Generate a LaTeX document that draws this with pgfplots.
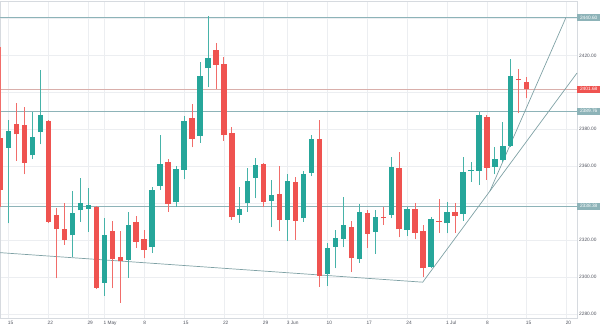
\documentclass[border=0pt]{standalone}
\usepackage{pgfplots}
\usepackage{pgfplotstable}
\pgfplotsset{compat=1.18}
\usepackage{fontspec}
\setmainfont{Liberation Sans}
\definecolor{cgreen}{HTML}{26A69A}
\definecolor{cred}{HTML}{EF5350}
\definecolor{lvl}{HTML}{8DB3B8}
\definecolor{gridc}{HTML}{ECEEF1}
\definecolor{pline}{HTML}{D9AFAB}
\definecolor{txt}{HTML}{50535E}
\definecolor{frame}{HTML}{D6DADF}

\pgfplotstableread{
i o h l c
1 2370.1 2385.0 2329.1 2379.3
4 2365.9 2389.6 2363.7 2375.7
5 2378.5 2412.1 2371.9 2387.6
9 2322.6 2346.6 2311.0 2334.7
10 2336.1 2353.5 2330.0 2340.1
11 2337.0 2348.4 2324.6 2339.2
13 2297.0 2331.8 2289.9 2322.8
16 2309.1 2335.0 2299.7 2328.4
19 2316.1 2348.9 2312.9 2347.0
20 2349.3 2376.9 2347.1 2361.0
22 2340.5 2360.1 2338.1 2358.3
23 2358.0 2387.2 2352.9 2384.5
25 2376.4 2416.3 2372.8 2409.0
26 2413.0 2441.3 2402.7 2418.4
30 2333.4 2348.9 2329.5 2336.9
31 2339.9 2358.9 2335.4 2352.2
32 2353.5 2364.3 2342.6 2360.9
34 2341.4 2352.6 2326.9 2344.4
36 2330.9 2355.8 2319.7 2352.2
38 2331.8 2357.6 2330.0 2355.6
39 2356.5 2376.9 2354.7 2374.6
41 2301.7 2318.6 2295.3 2315.9
42 2316.5 2325.5 2304.7 2321.3
43 2320.8 2343.5 2316.1 2328.2
45 2309.6 2339.6 2307.8 2335.4
47 2324.6 2336.3 2312.5 2332.7
49 2333.6 2365.2 2331.8 2359.8
51 2325.5 2337.8 2322.2 2336.7
54 2305.6 2332.7 2304.7 2331.6
56 2329.1 2340.8 2323.7 2335.0
58 2334.0 2364.8 2330.5 2356.7
59 2357.2 2362.5 2351.7 2358.0
60 2357.6 2389.2 2349.8 2387.9
62 2359.8 2370.6 2355.6 2363.7
63 2363.4 2384.1 2362.5 2371.0
64 2371.0 2418.1 2370.6 2409.0
}\greentab

\pgfplotstableread{
i o h l c
0 2375.1 2424.7 2338.1 2347.1
2 2382.7 2394.4 2363.0 2377.3
3 2382.3 2392.3 2355.6 2361.9
6 2384.5 2385.0 2329.1 2329.8
7 2333.8 2337.2 2299.3 2325.8
8 2326.0 2339.9 2317.4 2320.1
12 2338.1 2338.5 2293.4 2294.3
14 2324.9 2330.4 2293.9 2309.6
15 2311.0 2324.9 2286.1 2308.7
17 2329.6 2333.2 2315.6 2319.2
18 2320.6 2325.5 2310.1 2314.7
21 2362.1 2363.9 2335.4 2339.6
24 2386.3 2393.5 2370.2 2374.9
27 2422.8 2426.5 2401.8 2415.0
28 2415.4 2419.3 2373.9 2376.9
29 2378.0 2381.4 2330.9 2332.3
33 2361.0 2361.5 2337.8 2340.8
35 2345.2 2360.1 2324.9 2330.9
37 2351.7 2354.4 2320.1 2330.5
40 2374.9 2385.0 2294.8 2300.6
44 2327.3 2330.5 2302.6 2310.1
46 2334.5 2336.3 2315.6 2323.3
48 2332.7 2337.8 2328.2 2331.8
50 2359.2 2367.9 2321.5 2325.8
52 2336.9 2339.9 2320.4 2324.0
53 2324.9 2328.2 2300.2 2304.7
55 2330.5 2342.1 2324.0 2330.2
57 2335.4 2339.9 2324.0 2333.2
61 2386.7 2387.6 2352.6 2359.1
65 2407.4 2412.7 2388.6 2406.7
66 2405.8 2408.5 2396.8 2401.7
}\redtab

\begin{document}
\begin{tikzpicture}[x=1pt,y=1pt]
\path[use as bounding box] (0,-11) rectangle (600,318);
\begin{axis}[
  at={(0,0)}, anchor=south west,
  scale only axis, width=577pt, height=317pt,
  xmin=-0.088, xmax=72.31, ymin=2277.8, ymax=2449.5,
  clip=false,
  axis line style={draw=frame},
  xtick={1,6,11,13,18,23,28,33,36,41,46,51,56,61,66,71},
  xticklabels={15,22,29,1 May,8,15,22,29,3 Jun,10,17,24,1 Jul,8,15,20},
  ytick={2280,2300,2320,2340,2360,2380,2400,2420,2440},
  yticklabels={2280.00,2300.00,2320.00,{},2360.00,2380.00,{},2420.00,{}},
  yticklabel pos=right,
  grid=major, major grid style={draw=gridc, line width=0.6pt},
  tick style={draw=none},
  ticklabel style={font=\fontsize{4.8}{5}\selectfont, text=txt},
  xticklabel style={anchor=north west, inner sep=0pt, xshift=-1pt, yshift=-2.5pt},
  yticklabel style={anchor=west, inner sep=0pt, xshift=2pt},
  candle/.style={draw=none, mark=none, error bars/.cd, y dir=plus, y explicit, error mark=none},
]
% level lines
\addplot[lvl, line width=0.9pt] coordinates {(-0.088,2440.6) (72.31,2440.6)};
\addplot[lvl, line width=0.9pt] coordinates {(-0.088,2389.76) (72.31,2389.76)};
\addplot[lvl, line width=1pt] coordinates {(-0.088,2338.38) (72.31,2338.38)};
\addplot[pline, line width=0.7pt] coordinates {(-0.088,2401.68) (72.31,2401.68)};
% trend lines
\addplot[lvl!90!black, line width=0.7pt] coordinates {(-0.088,2313.2) (52.95,2297.2) (72.31,2410.5)};
\addplot[lvl!90!black, line width=0.7pt] coordinates {(61.39,2346.6) (70.93,2440.6)};
% wicks
\addplot[candle, error bar style={draw=cgreen!85!white, line width=0.75pt}]
  table[x=i, y=l, y error expr={\thisrow{h}-\thisrow{l}}] {\greentab};
\addplot[candle, error bar style={draw=cred!85!white, line width=0.75pt}]
  table[x=i, y=l, y error expr={\thisrow{h}-\thisrow{l}}] {\redtab};
% bodies
\addplot[candle, error bar style={draw=cgreen, line width=5.4pt}]
  table[x=i, y=o, y error expr={\thisrow{c}-\thisrow{o}}] {\greentab};
\addplot[candle, error bar style={draw=cred, line width=5.4pt}]
  table[x=i, y=c, y error expr={\thisrow{o}-\thisrow{c}}] {\redtab};
% price labels
\tikzset{plab/.style={anchor=west, inner sep=0pt, minimum width=23pt, minimum height=7pt, text=white, font=\fontsize{4.8}{5}\selectfont}}
\node[plab, fill=lvl] at (axis cs:72.31,2440.6) {2440.60};
\node[plab, fill=cred] at (axis cs:72.31,2401.68) {2401.68};
\node[plab, fill=lvl] at (axis cs:72.31,2389.76) {2389.76};
\node[plab, fill=lvl] at (axis cs:72.31,2338.38) {2338.38};
\end{axis}
\end{tikzpicture}
\end{document}
